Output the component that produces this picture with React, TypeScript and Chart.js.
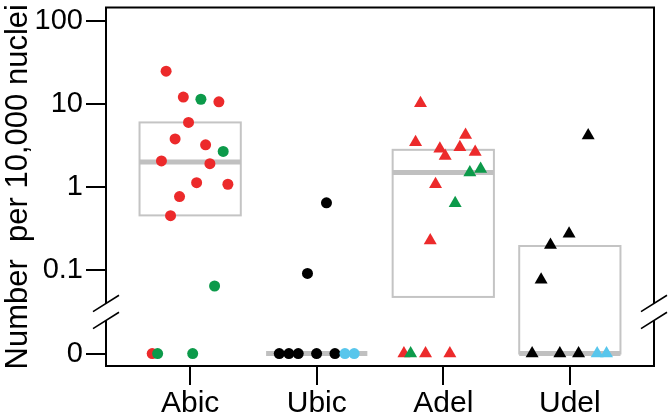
import React, { useEffect, useRef } from 'react';
import { Chart, registerables } from 'chart.js';

Chart.register(...registerables);

// ---- data ----
const categories = ['Abic', 'Ubic', 'Adel', 'Udel'];
const yTickValues = [0, 0.1, 1, 10, 100];
const yTickLabels = ['0', '0.1', '1', '10', '100'];

// x = category position (1..4) with jitter, v = value (0 = zero row)
const abicRedX = [0.81, 0.946, 1.227, 0.987, 0.881, 1.122, 0.773, 1.156, 1.051, 1.298, 0.916, 0.845, 0.70];
const abicRedV = [25, 12.2, 10.7, 6.05, 3.83, 3.25, 2.08, 1.93, 1.14, 1.09, 0.775, 0.457, 0];
const abicGreenX = [1.085, 1.261, 1.193, 0.743, 1.02];
const abicGreenV = [11.5, 2.71, 0.065, 0, 0];

const ubicBlackX = [2.077, 1.927, 1.704, 1.78, 1.854, 1.999, 2.144];
const ubicBlackV = [0.652, 0.092, 0, 0, 0, 0, 0];
const ubicBlueX = [2.223, 2.296];
const ubicBlueV = [0, 0];

const adelRedX = [2.82, 2.781, 3.176, 2.973, 3.131, 3.015, 3.252, 2.939, 2.897, 2.689, 2.86, 3.052];
const adelRedV = [10.3, 3.5, 4.27, 2.91, 3.05, 2.38, 2.66, 1.09, 0.23, 0, 0, 0];
const adelGreenX = [3.21, 3.295, 3.094, 2.742];
const adelGreenV = [1.51, 1.66, 0.645, 0];

const udelBlackX = [4.145, 3.994, 3.847, 3.773, 3.702, 3.921, 4.069];
const udelBlackV = [4.2, 0.276, 0.202, 0.0775, 0, 0, 0];
const udelBlueX = [4.216, 4.29];
const udelBlueV = [0, 0];

const boxLow = [0.46, 0, 0.048, 0];
const boxHigh = [6.05, 0, 2.83, 0.197];
const boxMedian = [2.02, 0, 1.51, 0];

// ---- helpers ----
const ZERO_POS = -2;
const toY = (v: number) => (v > 0 ? Math.log10(v) : ZERO_POS);
const BREAK_POS = -1.5;
const BOX_HALF = 0.4;

const RED = '#ec2a2b';
const GREEN = '#0c9a4a';
const BLACK = '#000000';
const BLUE = '#58c6ec';
const FONT = '"Liberation Sans", Arial, Helvetica, sans-serif';

const pts = (xs: number[], vs: number[]) => xs.map((x, i) => ({ x, y: toY(vs[i]) }));

const decor = {
  id: 'decor',
  beforeDatasetsDraw(chart: any) {
    const { ctx } = chart;
    const x = chart.scales.x;
    const y = chart.scales.y;
    ctx.save();
    categories.forEach((_, i) => {
      const c = i + 1;
      const l = x.getPixelForValue(c - BOX_HALF);
      const r = x.getPixelForValue(c + BOX_HALF);
      const t = y.getPixelForValue(toY(boxHigh[i]));
      const b = y.getPixelForValue(toY(boxLow[i]));
      const m = y.getPixelForValue(toY(boxMedian[i]));
      if (b - t > 1) {
        ctx.strokeStyle = '#c4c4c4';
        ctx.lineWidth = 2;
        ctx.strokeRect(l, t, r - l, b - t);
      }
      ctx.strokeStyle = '#c0c0c0';
      ctx.lineWidth = 5;
      ctx.beginPath();
      ctx.moveTo(l, m);
      ctx.lineTo(r, m);
      ctx.stroke();
    });
    ctx.restore();
  },
  afterDraw(chart: any) {
    const { ctx, chartArea } = chart;
    const y = chart.scales.y;
    const { left, right, top, bottom } = chartArea;
    const bc = y.getPixelForValue(BREAK_POS);
    const g1 = bc - 8.5;
    const g2 = bc + 8.5;
    ctx.save();
    ctx.strokeStyle = '#000';
    ctx.lineWidth = 2;
    ctx.lineCap = 'butt';
    ctx.beginPath();
    ctx.moveTo(left - 1, top);
    ctx.lineTo(right + 1, top);
    ctx.moveTo(left - 1, bottom);
    ctx.lineTo(right + 1, bottom);
    [left, right].forEach((xx) => {
      ctx.moveTo(xx, top);
      ctx.lineTo(xx, g1);
      ctx.moveTo(xx, g2);
      ctx.lineTo(xx, bottom);
    });
    ctx.stroke();
    ctx.lineWidth = 1.6;
    ctx.beginPath();
    [left, right].forEach((xx) => {
      [g1, g2].forEach((gy) => {
        ctx.moveTo(xx - 13, gy + 8.2);
        ctx.lineTo(xx + 13, gy - 8.2);
      });
    });
    ctx.stroke();
    ctx.restore();
  },
};

export default function App() {
  const ref = useRef<HTMLCanvasElement | null>(null);
  useEffect(() => {
    if (!ref.current) return;
    const mk = (data: any, color: string, style: string, radius: number) => ({
      type: 'scatter',
      data,
      pointStyle: style,
      pointRadius: radius,
      pointHoverRadius: radius,
      backgroundColor: color,
      borderColor: color,
      borderWidth: 0,
      showLine: false,
    });
    const chart = new Chart(ref.current, {
      type: 'scatter',
      data: {
        datasets: [
          mk(pts(abicGreenX, abicGreenV), GREEN, 'circle', 5.5),
          mk(pts(abicRedX, abicRedV), RED, 'circle', 5.5),
          mk(pts(ubicBlueX, ubicBlueV), BLUE, 'circle', 5.5),
          mk(pts(ubicBlackX, ubicBlackV), BLACK, 'circle', 5.5),
          mk(pts(adelGreenX, adelGreenV), GREEN, 'triangle', 7.5),
          mk(pts(adelRedX, adelRedV), RED, 'triangle', 7.5),
          mk(pts(udelBlueX, udelBlueV), BLUE, 'triangle', 7.5),
          mk(pts(udelBlackX, udelBlackV), BLACK, 'triangle', 7.5),
        ] as any,
      },
      options: {
        animation: false,
        responsive: false,
        events: [],
        layout: { padding: { top: 4, right: 16, left: 0, bottom: 0 } },
        plugins: { legend: { display: false }, tooltip: { enabled: false } },
        scales: {
          x: {
            type: 'linear',
            min: 0.335,
            max: 4.665,
            afterFit: (s: any) => { s.height = 54; s.paddingLeft = 0; s.paddingRight = 0; },
            afterBuildTicks: (s: any) => { s.ticks = categories.map((_, i) => ({ value: i + 1 })); },
            ticks: {
              callback: (v: any) => categories[Math.round(v) - 1] ?? '',
              color: '#000',
              font: { family: FONT, size: 30 },
              padding: 1,
              maxRotation: 0,
              autoSkip: false,
            },
            grid: { drawOnChartArea: false, drawTicks: true, tickLength: 19, color: '#000', lineWidth: 2 },
            border: { display: false },
          },
          y: {
            type: 'linear',
            min: -2.15,
            max: 2.165,
            afterFit: (s: any) => { s.width = 106; s.paddingTop = 0; s.paddingBottom = 0; },
            afterBuildTicks: (s: any) => { s.ticks = yTickValues.map((v) => ({ value: toY(v) })); },
            ticks: {
              callback: (v: any) => {
                const idx = yTickValues.findIndex((t) => Math.abs(toY(t) - v) < 1e-6);
                return idx >= 0 ? yTickLabels[idx] : '';
              },
              color: '#000',
              font: { family: FONT, size: 29 },
              padding: 3,
              autoSkip: false,
            },
            grid: { drawOnChartArea: false, drawTicks: true, tickLength: 20, color: '#000', lineWidth: 2 },
            border: { display: false },
            title: {
              display: true,
              text: 'Number  per 10,000 nuclei',
              color: '#000',
              font: { family: FONT, size: 31 },
              padding: 0,
            },
          },
        },
      } as any,
      plugins: [decor],
    });
    return () => chart.destroy();
  }, []);
  return (
    <div style={{ position: 'absolute', left: 0, top: 0, width: 670, height: 420, background: '#fff' }}>
      <canvas ref={ref} width={670} height={420} style={{ width: 670, height: 420, display: 'block' }} />
    </div>
  );
}
